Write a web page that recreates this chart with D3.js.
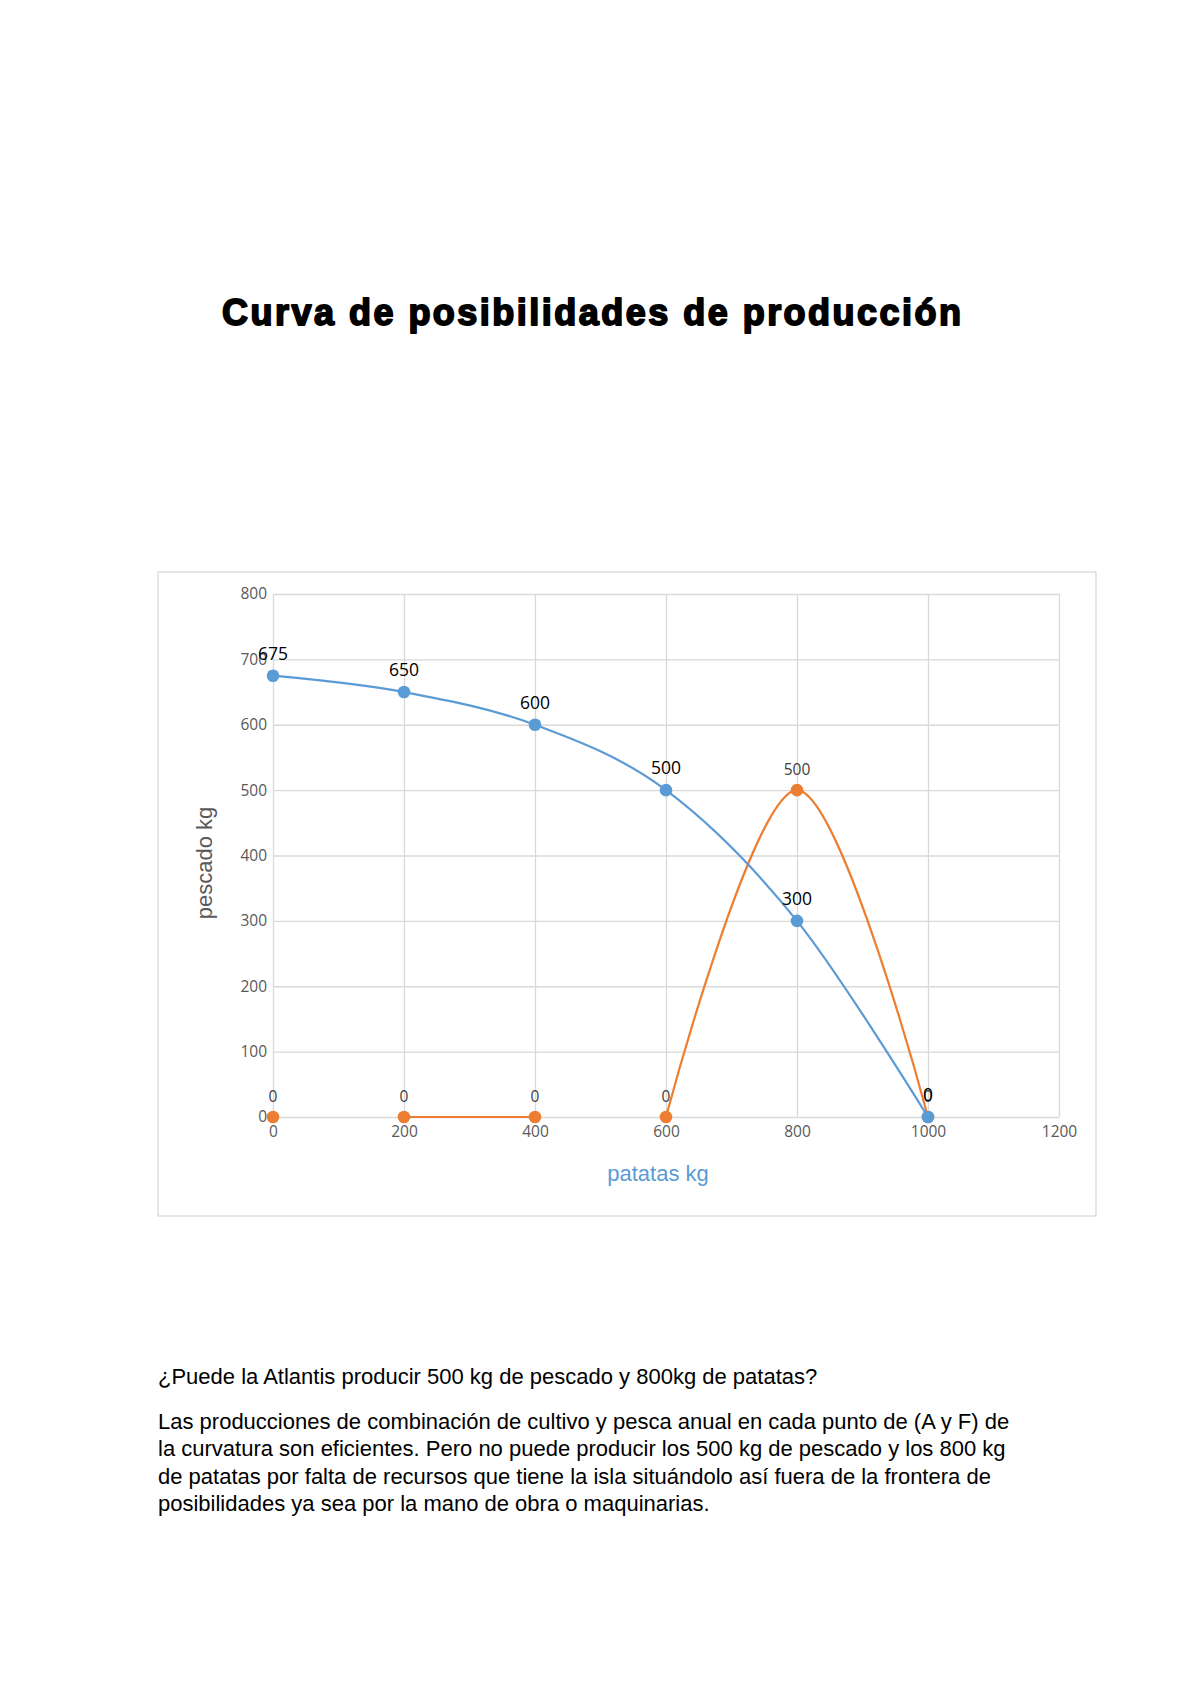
<!DOCTYPE html>
<html>
<head>
<meta charset="utf-8">
<script src="https://cdn.jsdelivr.net/npm/d3@7"></script>
<style>
  html, body { margin: 0; padding: 0; background: #fff; }
  svg { display: block; }
</style>
</head>
<body>
<script>
// ---- data ----
const potatoes = [0, 200, 400, 600, 800, 1000];          // patatas kg (x)
const fishFrontier = [675, 650, 600, 500, 300, 0];       // blue series (pescado kg)
const fishPoint = [0, 0, 0, 0, 500, 0];                   // orange series
const orangeSegments = [[1, 2], [3, 4, 5]];               // connected runs of the orange series
const xTicks = [0, 200, 400, 600, 800, 1000, 1200];
const yTicks = [0, 100, 200, 300, 400, 500, 600, 700, 800];

const titleText = "Curva de posibilidades de producción";
const xTitle = "patatas kg";
const yTitle = "pescado kg";
const question = "¿Puede la Atlantis producir 500 kg de pescado y 800kg de patatas?";
const answerLines = [
  "Las producciones de combinación de cultivo y pesca anual en cada punto de (A y F) de",
  "la curvatura son eficientes. Pero no puede producir los 500 kg de pescado y los 800 kg",
  "de patatas por falta de recursos que tiene la isla situándolo así fuera de la frontera de",
  "posibilidades ya sea por la mano de obra o maquinarias."
];

// ---- layout ----
const W = 1200, H = 1698;
const plot = { left: 273, right: 1059, top: 594, bottom: 1117 };
const BLUE = "#5B9BD5", ORANGE = "#ED7D31", GRID = "#D9D9D9", AXIS_TXT = "#595959";
const tickFont = "'Open Sans', sans-serif";

const svg = d3.select("body").append("svg").attr("width", W).attr("height", H);
svg.append("rect").attr("width", W).attr("height", H).attr("fill", "#fff");

// title
svg.append("text")
  .attr("x", 222).attr("y", 325)
  .attr("font-family", "'Liberation Sans', Arial, sans-serif")
  .attr("font-weight", "bold").attr("font-size", 36)
  .attr("fill", "#000").attr("stroke", "#000").attr("stroke-width", 1.8)
  .attr("stroke-linejoin", "round")
  .attr("textLength", 739).attr("lengthAdjust", "spacing")
  .text(titleText);

// chart frame
svg.append("rect")
  .attr("x", 158).attr("y", 572).attr("width", 938).attr("height", 644)
  .attr("fill", "#fff").attr("stroke", GRID).attr("stroke-width", 1.3);

const x = d3.scaleLinear().domain([0, 1200]).range([plot.left, plot.right]);
const y = d3.scaleLinear().domain([0, 800]).range([plot.bottom, plot.top]);

// y axis + horizontal gridlines
const gy = svg.append("g").attr("transform", `translate(${plot.left},0)`)
  .call(d3.axisLeft(y).tickValues(yTicks).tickFormat(d3.format("d"))
    .tickSize(-(plot.right - plot.left)).tickPadding(6));
gy.select(".domain").remove();
gy.selectAll("line").attr("stroke", GRID).attr("stroke-width", 1.3);
gy.selectAll("text").attr("font-family", tickFont).attr("font-size", 15.5).attr("fill", AXIS_TXT);

// x axis + vertical gridlines
const gx = svg.append("g").attr("transform", `translate(0,${plot.bottom})`)
  .call(d3.axisBottom(x).tickValues(xTicks).tickFormat(d3.format("d"))
    .tickSize(-(plot.bottom - plot.top)).tickPadding(9));
gx.select(".domain").remove();
gx.selectAll("line").attr("stroke", GRID).attr("stroke-width", 1.3);
gx.selectAll("text").attr("font-family", tickFont).attr("font-size", 15.5).attr("fill", AXIS_TXT);

// axis titles
svg.append("text")
  .attr("transform", `translate(212,863) rotate(-90)`)
  .attr("text-anchor", "middle")
  .attr("font-family", "'Liberation Sans', Arial, sans-serif").attr("font-size", 22)
  .attr("fill", AXIS_TXT).text(yTitle);
svg.append("text")
  .attr("x", 658).attr("y", 1181).attr("text-anchor", "middle")
  .attr("font-family", "'Liberation Sans', Arial, sans-serif").attr("font-size", 22)
  .attr("fill", BLUE).text(xTitle);

// ---- series ----
const line = d3.line().x(d => x(d[0])).y(d => y(d[1])).curve(d3.curveCardinal.tension(0));

const orangePts = potatoes.map((p, i) => [p, fishPoint[i]]);
const bluePts = potatoes.map((p, i) => [p, fishFrontier[i]]);

// orange series
orangeSegments.forEach(seg => {
  svg.append("path").datum(seg.map(i => orangePts[i]))
    .attr("d", line).attr("fill", "none").attr("stroke", ORANGE).attr("stroke-width", 2.2);
});
svg.append("g").selectAll("circle").data(orangePts).join("circle")
  .attr("cx", d => x(d[0])).attr("cy", d => y(d[1])).attr("r", 6.3).attr("fill", ORANGE);
svg.append("g").selectAll("text").data(orangePts).join("text")
  .attr("x", d => x(d[0])).attr("y", d => y(d[1]) - 15)
  .attr("text-anchor", "middle").attr("font-family", tickFont).attr("font-size", 15.5)
  .attr("fill", "#404040").text(d => d[1]);

// blue series
svg.append("path").datum(bluePts)
  .attr("d", line).attr("fill", "none").attr("stroke", BLUE).attr("stroke-width", 2.2);
svg.append("g").selectAll("circle").data(bluePts).join("circle")
  .attr("cx", d => x(d[0])).attr("cy", d => y(d[1])).attr("r", 6.3).attr("fill", BLUE);
svg.append("g").selectAll("text").data(bluePts).join("text")
  .attr("x", d => x(d[0])).attr("y", d => y(d[1]) - 16)
  .attr("text-anchor", "middle").attr("font-family", tickFont).attr("font-size", 17.5)
  .attr("fill", "#000").text(d => d[1]);

// ---- paragraph text ----
const para = svg.append("g")
  .attr("font-family", "'Liberation Sans', Arial, sans-serif").attr("font-size", 22).attr("fill", "#000");
para.append("text").attr("x", 158).attr("y", 1384).text(question);
answerLines.forEach((t, i) => {
  para.append("text").attr("x", 158).attr("y", 1428.5 + i * 27.6).text(t);
});
</script>
</body>
</html>
